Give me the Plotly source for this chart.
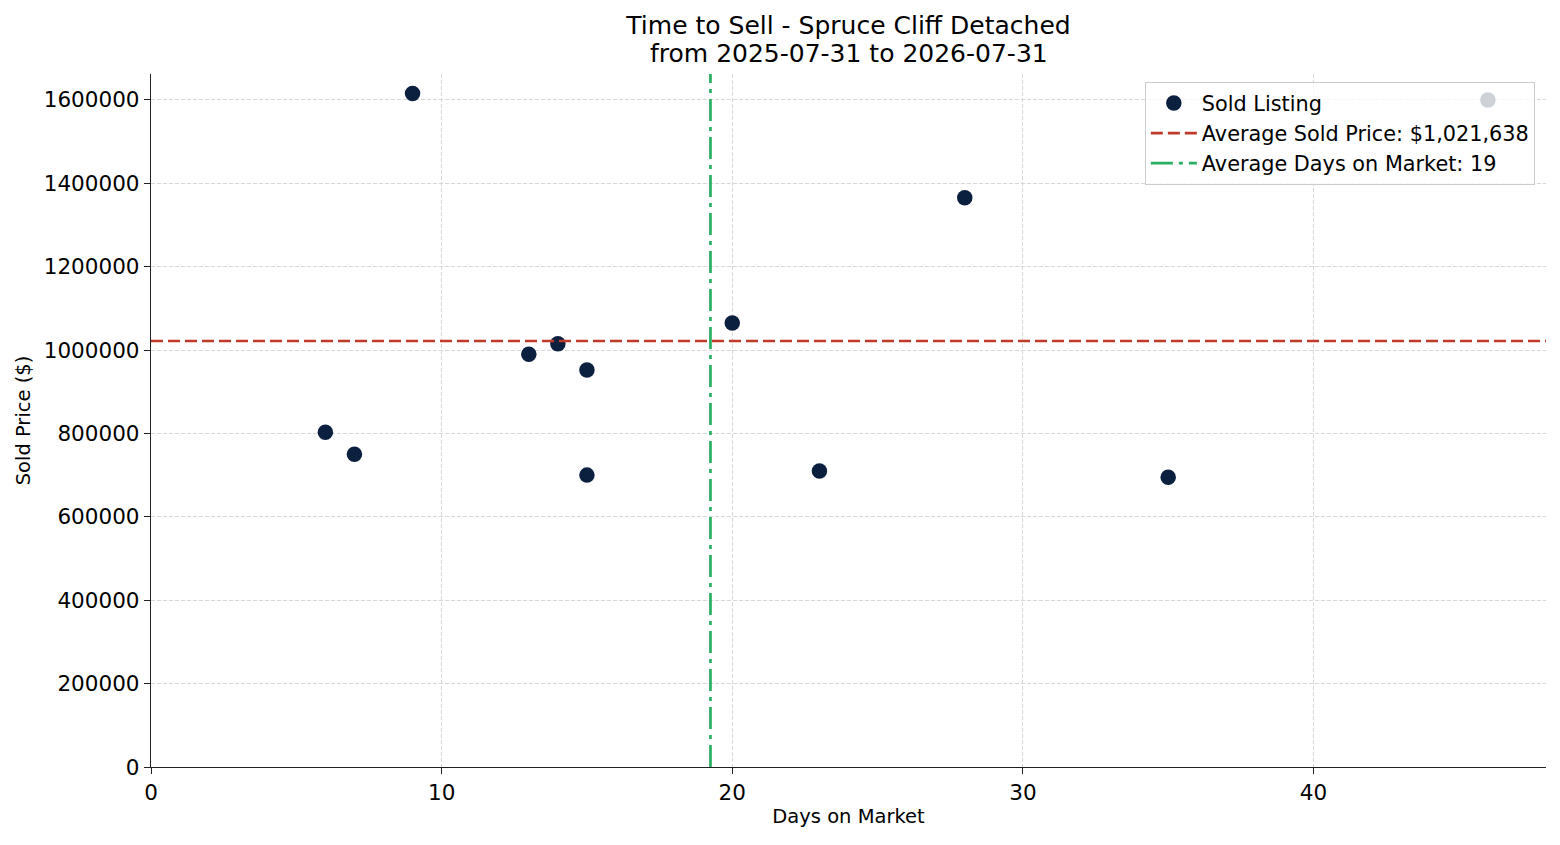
import plotly.graph_objects as go

days = [6, 7, 9, 13, 14, 15, 15, 20, 23, 28, 35, 46]
prices = [803000, 750000, 1615000, 990000, 1015000, 952000, 700000, 1065000, 710000, 1365000, 695000, 1599656]

avg_price = sum(prices) / len(prices)
avg_days = sum(days) / len(days)

title_line1 = "Time to Sell - Spruce Cliff Detached"
title_line2 = "from 2025-07-31 to 2026-07-31"
x_ticks = [0, 10, 20, 30, 40]
y_ticks = [0, 200000, 400000, 600000, 800000, 1000000, 1200000, 1400000, 1600000]

font = "DejaVu Sans"
fig = go.Figure()
fig.add_trace(go.Scatter(
    x=days, y=prices, mode="markers", name="Sold Listing",
    marker=dict(color="#0b1f3f", size=15.5, line=dict(width=0)),
))
fig.add_trace(go.Scatter(
    x=[0, 48], y=[avg_price, avg_price], mode="lines",
    name=f"Average Sold Price: ${avg_price:,.0f}",
    line=dict(color="#c0392b", width=2.7, dash="12px,5px"),
))
fig.add_trace(go.Scatter(
    x=[avg_days, avg_days], y=[0, 1662000], mode="lines",
    name=f"Average Days on Market: {avg_days:.0f}",
    line=dict(color="#27ae60", width=2.7, dash="22px,6px,4px,6px"),
))

fig.update_layout(
    width=1560, height=845,
    paper_bgcolor="white", plot_bgcolor="white",
    margin=dict(l=143, r=22, t=66, b=86),
    font=dict(family=font, size=20, color="black"),
    title=dict(text=title_line1, x=840.5 / 1560, xanchor="center",
               y=1 - 17 / 845, yanchor="middle", font=dict(size=25, family=font)),
    annotations=[dict(text=title_line2, xref="paper", yref="paper",
                      x=0.5, y=(759 - 45) / 693, xanchor="center", yanchor="middle",
                      showarrow=False, font=dict(size=25, family=font))],
    showlegend=True,
    legend=dict(x=0.992, y=(767 - 82) / 693, xanchor="right", yanchor="top",
                bgcolor="rgba(255,255,255,0.8)", bordercolor="#cccccc", borderwidth=1,
                font=dict(size=20.8, family=font), tracegroupgap=0, itemwidth=46),
)
fig.update_xaxes(
    range=[0, 48], tickvals=x_ticks, showgrid=True,
    gridcolor="#d8d8d8", griddash="4px,2px", gridwidth=0.8,
    showline=True, linecolor="#222", linewidth=1.4,
    ticks="outside", ticklen=6, tickwidth=1.3, tickcolor="#222",
    tickfont=dict(size=21.5),
    zeroline=False, title=dict(text="Days on Market", font=dict(size=19.5), standoff=5),
)
fig.update_yaxes(
    range=[0, 1662000], tickvals=y_ticks, tickformat="d", showgrid=True,
    gridcolor="#d8d8d8", griddash="4px,2px", gridwidth=0.8,
    showline=True, linecolor="#222", linewidth=1.4,
    ticks="outside", ticklen=6, tickwidth=1.3, tickcolor="#222",
    tickfont=dict(size=21.5),
    zeroline=False, title=dict(text="Sold Price ($)", font=dict(size=19.5), standoff=7),
)
fig.write_html("out.html")
